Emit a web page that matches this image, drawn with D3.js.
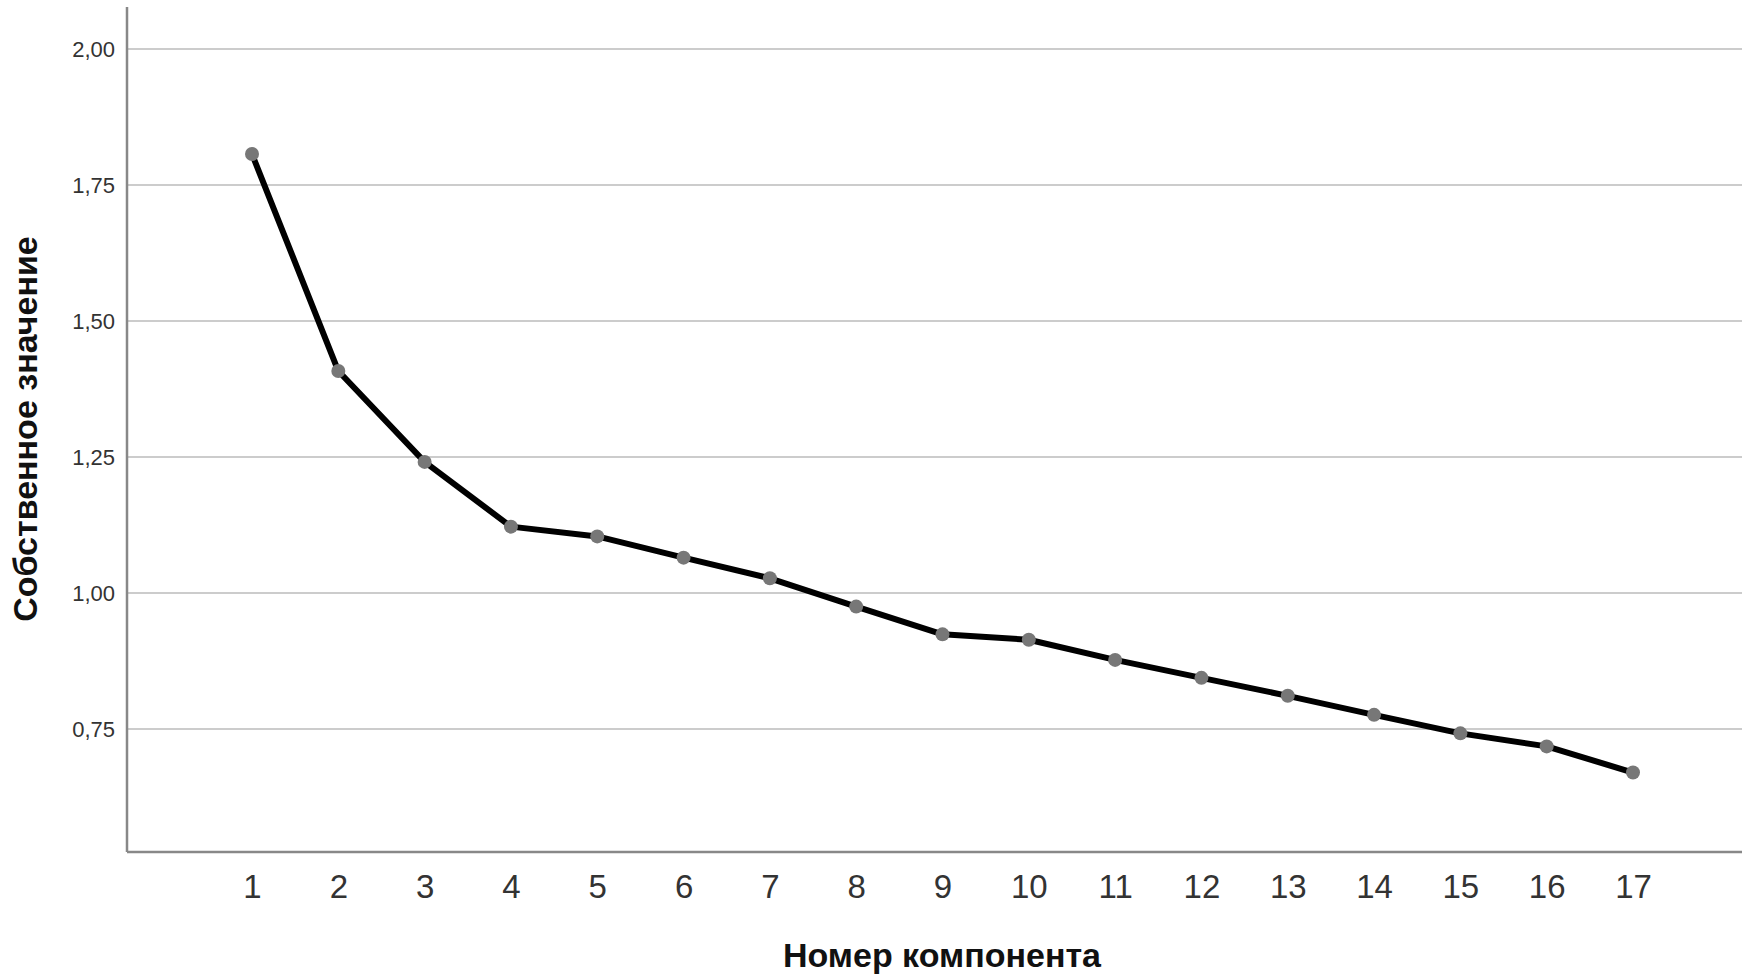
<!DOCTYPE html>
<html>
<head>
<meta charset="utf-8">
<script src="https://cdn.jsdelivr.net/npm/d3@7"></script>
<style>
    body { margin: 0; background: #fff; }
    text { font-family: "Liberation Sans", Arial, sans-serif; }
</style>
</head>
<body>
<div id="chart"></div>
<script>
const components = [1, 2, 3, 4, 5, 6, 7, 8, 9, 10, 11, 12, 13, 14, 15, 16, 17];
const eigenvalues = [1.807, 1.408, 1.241, 1.122, 1.104, 1.065, 1.027, 0.975, 0.924,
    0.914, 0.877, 0.844, 0.811, 0.776, 0.742, 0.718, 0.670];
const yTicks = [0.75, 1.00, 1.25, 1.50, 1.75, 2.00];
const xTitle = 'Номер компонента';
const yTitle = 'Собственное значение';

const width = 1742;
const height = 976;
const plotLeft = 127;
const plotTop = 7;
const plotBottom = 852;

const svg = d3.select('#chart')
    .append('svg')
    .attr('width', width)
    .attr('height', height);

const x = d3.scaleLinear().domain([1, 17]).range([252, 1633]);
const y = d3.scaleLinear().domain([0.75, 2.0]).range([729, 49]);

const ruFormat = d3.formatLocale({ decimal: ',', thousands: ' ', grouping: [3], currency: ['', ''] }).format('.2f');

// gridlines
svg.append('g')
    .selectAll('line')
    .data(yTicks)
    .enter()
    .append('line')
    .attr('x1', plotLeft)
    .attr('x2', width)
    .attr('y1', d => y(d))
    .attr('y2', d => y(d))
    .attr('stroke', '#cccccc')
    .attr('stroke-width', 2);

// y axis
const yAxis = svg.append('g')
    .attr('transform', `translate(${plotLeft},0)`)
    .call(d3.axisLeft(y).tickValues(yTicks).tickFormat(ruFormat).tickSize(0).tickPadding(12));
yAxis.select('.domain').remove();
yAxis.selectAll('text')
    .attr('font-size', 22)
    .attr('fill', '#333');

// x axis
const xAxis = svg.append('g')
    .attr('transform', `translate(0,${plotBottom})`)
    .call(d3.axisBottom(x).tickValues(components).tickFormat(d3.format('d')).tickSize(0).tickPadding(23));
xAxis.select('.domain').remove();
xAxis.selectAll('text')
    .attr('font-size', 33)
    .attr('fill', '#333');

// axis lines
svg.append('line')
    .attr('x1', plotLeft).attr('x2', plotLeft)
    .attr('y1', plotTop).attr('y2', plotBottom)
    .attr('stroke', '#888').attr('stroke-width', 2.5);
svg.append('line')
    .attr('x1', plotLeft).attr('x2', width)
    .attr('y1', plotBottom).attr('y2', plotBottom)
    .attr('stroke', '#888').attr('stroke-width', 2.5);

// scree line
const line = d3.line()
    .x((d, i) => x(components[i]))
    .y(d => y(d));

svg.append('path')
    .datum(eigenvalues)
    .attr('d', line)
    .attr('fill', 'none')
    .attr('stroke', '#000')
    .attr('stroke-width', 6)
    .attr('stroke-linejoin', 'round');

svg.append('g')
    .selectAll('circle')
    .data(eigenvalues)
    .enter()
    .append('circle')
    .attr('cx', (d, i) => x(components[i]))
    .attr('cy', d => y(d))
    .attr('r', 7)
    .attr('fill', '#777');

// titles
svg.append('text')
    .attr('x', 942)
    .attr('y', 967)
    .attr('text-anchor', 'middle')
    .attr('font-size', 34)
    .attr('font-weight', 'bold')
    .attr('fill', '#111')
    .text(xTitle);

svg.append('text')
    .attr('transform', 'translate(37,429) rotate(-90)')
    .attr('text-anchor', 'middle')
    .attr('font-size', 34)
    .attr('font-weight', 'bold')
    .attr('fill', '#111')
    .text(yTitle);
</script>
</body>
</html>
